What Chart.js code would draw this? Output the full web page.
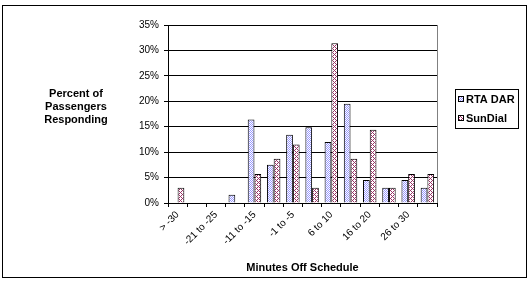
<!DOCTYPE html>
<html>
<head>
<meta charset="utf-8">
<script src="https://cdn.jsdelivr.net/npm/chart.js@4.4.0/dist/chart.umd.min.js"></script>
<style>
  html, body { margin: 0; padding: 0; background: #fff; }
  #wrap { width: 531px; height: 281px; }
</style>
</head>
<body>
<div id="wrap"><canvas id="chart" width="531" height="281"></canvas></div>
<script>
// categories (minutes off schedule)
const categories = ["> -30", "-26 to -30", "-21 to -25", "-16 to -20", "-11 to -15", "-6 to -10", "-1 to -5",
  "0 to 5", "6 to 10", "11 to 15", "16 to 20", "21 to 25", "26 to 30", "> 30"];
// percent of passengers responding
const rtaDar = [0, 0, 0, 1.6, 16.4, 7.5, 13.4, 14.9, 12.0, 19.5, 4.5, 3.0, 4.5, 3.0];
const sunDial = [3.0, 0, 0, 0, 5.7, 8.7, 11.5, 3.0, 31.4, 8.7, 14.4, 3.0, 5.7, 5.7];
const seriesNames = ["RTA DAR", "SunDial"];

const FONT = "'Liberation Sans', Arial, sans-serif";

function makePattern(color, kind) {
  const c = document.createElement("canvas");
  c.width = 4; c.height = 4;
  const g = c.getContext("2d");
  g.fillStyle = "#fff";
  g.fillRect(0, 0, 4, 4);
  g.fillStyle = color;
  for (let x = 0; x < 4; x++) {
    for (let y = 0; y < 4; y++) {
      let on;
      if (kind === "checker") on = (x + y) % 2 === 0;
      else on = (x + y) % 4 === 0 || (x - y + 4) % 4 === 0;
      if (on) g.fillRect(x, y, 1, 1);
    }
  }
  return g.createPattern(c, "repeat");
}

const ctx = document.getElementById("chart").getContext("2d");
const bluePat = makePattern("#9999ff", "checker");
const redPat = makePattern("#993366", "cross");

// frame, plot border, titles and legend
const decor = {
  id: "decor",
  beforeDraw(chart) {
    const c = chart.ctx;
    c.save();
    c.fillStyle = "#fff";
    c.fillRect(0, 0, chart.width, chart.height);
    c.strokeStyle = "#000";
    c.lineWidth = 1;
    c.strokeRect(2.5, 5.5, 524, 272);
    const a = chart.chartArea;
    c.strokeStyle = "#808080";
    c.strokeRect(a.left + 0.5, a.top + 0.5, a.right - a.left, a.bottom - a.top);
    c.restore();
  },
  afterDraw(chart) {
    const c = chart.ctx;
    const a = chart.chartArea;
    c.save();
    c.fillStyle = "#000";
    c.font = "bold 11px " + FONT;
    c.textAlign = "center";
    c.textBaseline = "middle";
    ["Percent of", "Passengers", "Responding"].forEach((t, i) => c.fillText(t, 76, 94 + i * 13));
    c.fillText("Minutes Off Schedule", (a.left + a.right) / 2, 268);

    // legend
    c.strokeStyle = "#000";
    c.lineWidth = 1;
    c.strokeRect(455.5, 89.5, 63, 39);
    const pats = [bluePat, redPat];
    seriesNames.forEach((name, i) => {
      const y = 99 + i * 19;
      c.fillStyle = pats[i];
      c.fillRect(458, y - 3, 6, 6);
      c.strokeRect(458.5, y - 2.5, 5, 5);
      c.fillStyle = "#000";
      c.textAlign = "left";
      c.fillText(name, 466, y + 0.5);
    });
    c.restore();
  }
};

new Chart(ctx, {
  type: "bar",
  data: {
    labels: categories,
    datasets: [
      { label: seriesNames[0], data: rtaDar, backgroundColor: bluePat, borderColor: "#000", borderWidth: 1 },
      { label: seriesNames[1], data: sunDial, backgroundColor: redPat, borderColor: "#000", borderWidth: 1 }
    ]
  },
  options: {
    responsive: false,
    animation: false,
    layout: { padding: { left: 120, right: 94, top: 25, bottom: 0 } },
    datasets: { bar: { categoryPercentage: 0.7, barPercentage: 1.0 } },
    plugins: { legend: { display: false }, tooltip: { enabled: false } },
    scales: {
      x: {
        offset: true,
        grid: { offset: true, drawOnChartArea: false, color: "#000", tickLength: 4 },
        border: { color: "#000" },
        afterFit(scale) { scale.height = 78; },
        ticks: {
          autoSkip: false,
          minRotation: 45,
          maxRotation: 45,
          padding: 2,
          color: "#000",
          font: { family: FONT, size: 10 },
          callback(v, i) { return i % 2 === 0 ? categories[i] : ""; }
        }
      },
      y: {
        min: 0,
        max: 35,
        grid: { color: "#000", tickLength: 4 },
        border: { color: "#000" },
        afterFit(scale) { scale.width = 48; },
        ticks: {
          stepSize: 5,
          padding: 5,
          color: "#000",
          font: { family: FONT, size: 10 },
          callback(v) { return v + "%"; }
        }
      }
    }
  },
  plugins: [decor]
});
</script>
</body>
</html>
